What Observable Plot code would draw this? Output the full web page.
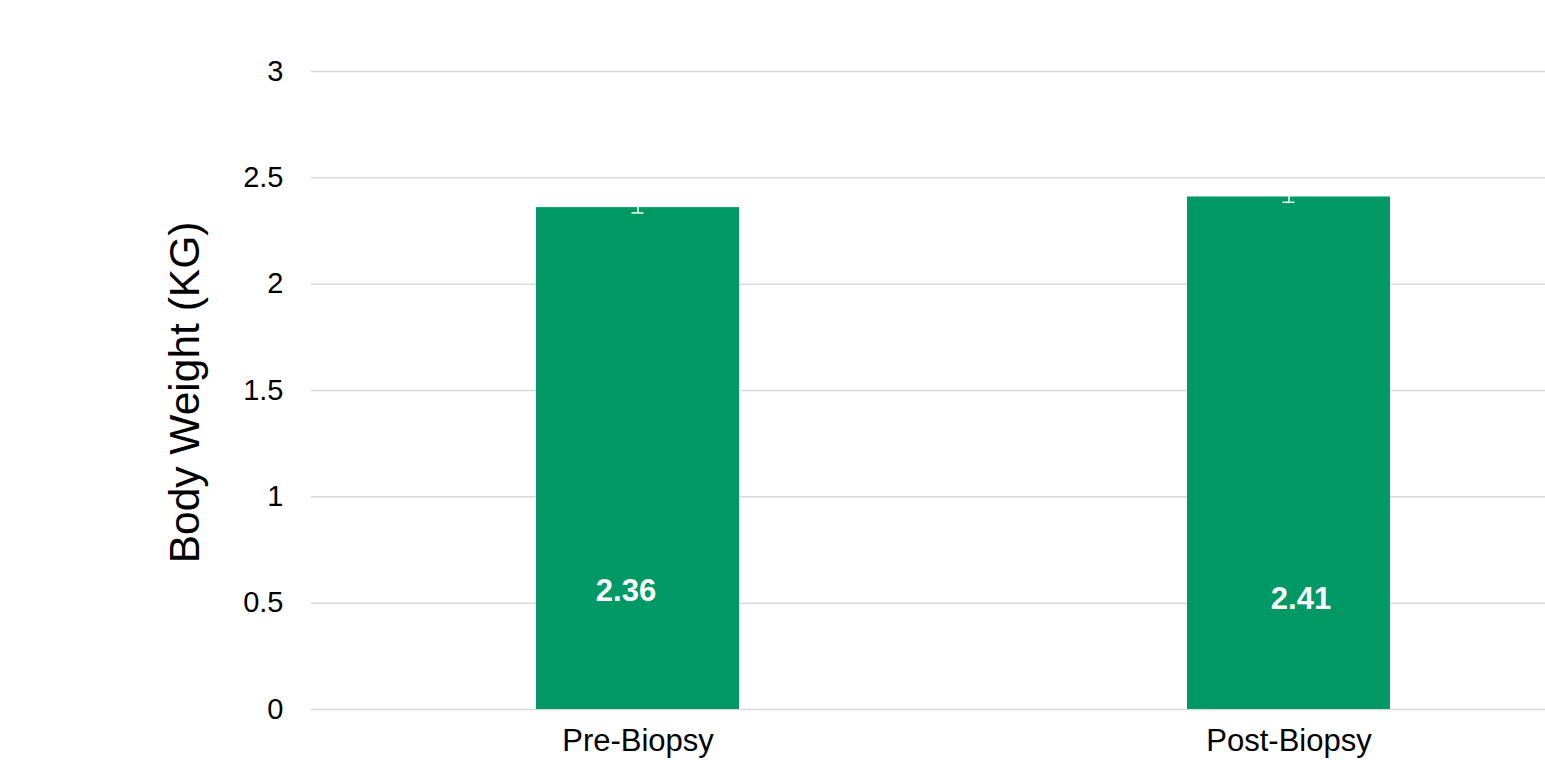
<!DOCTYPE html>
<html>
<head>
<meta charset="utf-8">
<script src="https://cdn.jsdelivr.net/npm/d3@7"></script>
<script src="https://cdn.jsdelivr.net/npm/@observablehq/plot@0.6"></script>
<style>
  html, body { margin: 0; padding: 0; background: #fff; }
  body { width: 1545px; height: 760px; overflow: hidden; }
  svg { font-family: "Liberation Sans", Arial, sans-serif; }
</style>
</head>
<body>
<div id="chart"></div>
<script>
const categories = ["Pre-Biopsy", "Post-Biopsy"];
const values = [2.36, 2.41];
const errors = [0.025, 0.025];
const yTicks = [0, 0.5, 1, 1.5, 2, 2.5, 3];
const yLabel = "Body Weight (KG)";

const data = categories.map((c, i) => ({ cat: c, value: values[i], err: errors[i] }));
const green = "#009966";

const chart = Plot.plot({
  width: 1545,
  height: 760,
  marginLeft: 311,
  marginRight: 0,
  marginTop: 71,
  marginBottom: 51,
  style: { fontFamily: "'Liberation Sans', Arial, sans-serif", background: "#fff" },
  x: { domain: categories, range: [312, 1614], paddingInner: 0.688, paddingOuter: 0.344, label: null },
  y: { domain: [0, 3], label: null },
  marks: [
    Plot.ruleY(yTicks, { stroke: "#d9d9d9", strokeWidth: 1.5 }),
    Plot.barY(data, { x: "cat", y: "value", fill: green }),
    Plot.ruleX(data, { x: "cat", y1: d => d.value - d.err, y2: d => d.value + d.err, stroke: "#fff", strokeWidth: 1.5 }),
    Plot.tickY(data, { x: "cat", y: d => d.value - d.err, stroke: "#fff", strokeWidth: 1.5, insetLeft: 95.5, insetRight: 95.5 }),
    Plot.text(data.filter((d, i) => i === 0), { x: "cat", y: 0.555, dx: -12, text: d => d.value.toFixed(2), fill: "#fff", fontSize: 31, fontWeight: "bold" }),
    Plot.text(data.filter((d, i) => i === 1), { x: "cat", y: 0.52, dx: 12, text: d => d.value.toFixed(2), fill: "#fff", fontSize: 31, fontWeight: "bold" }),
    Plot.axisY({ ticks: yTicks, tickSize: 0, tickPadding: 28, fontSize: 29, tickFormat: d => String(d), label: null }),
    Plot.axisX({ tickSize: 0, tickPadding: 19, fontSize: 31, label: null }),
    Plot.text([yLabel], { frameAnchor: "left", textAnchor: "middle", dx: -126, dy: 2, rotate: -90, text: d => d, fontSize: 42.5, fill: "#000" })
  ]
});
document.getElementById("chart").appendChild(chart);
</script>
</body>
</html>
